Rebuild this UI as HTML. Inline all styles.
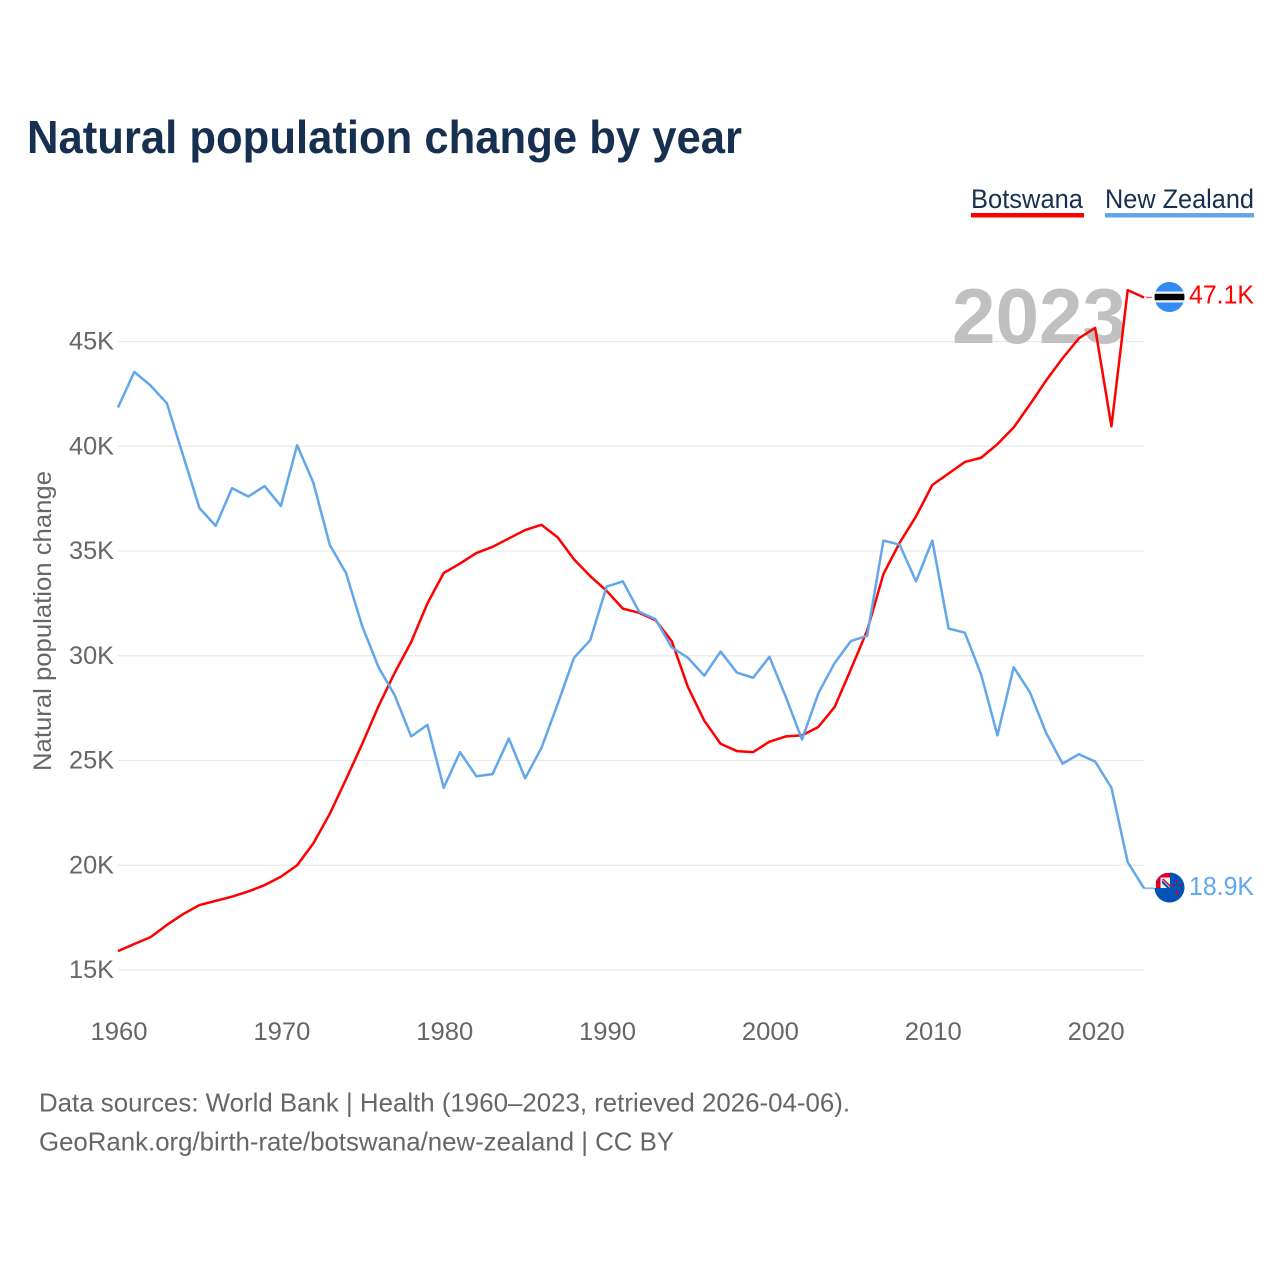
<!DOCTYPE html>
<html lang="en">
<head>
<meta charset="utf-8">
<title>Natural population change by year</title>
<style>
html,body{margin:0;padding:0;background:#fff;}
svg{display:block;}
text{font-family:"Liberation Sans",sans-serif;}
</style>
</head>
<body>
<svg id="chart" xmlns="http://www.w3.org/2000/svg" width="1280" height="1280" viewBox="0 0 1280 1280">
  <rect x="0" y="0" width="1280" height="1280" fill="#fff"/>
  <text x="27" y="153" font-size="46" font-weight="700" fill="#18304f" textLength="715" lengthAdjust="spacingAndGlyphs">Natural population change by year</text>

  <g>
    <text x="971" y="208" font-size="27" fill="#18304f" textLength="112" lengthAdjust="spacingAndGlyphs">Botswana</text>
    <rect x="971" y="213" width="113" height="4.5" fill="#ff0000"/>
  </g>
  <g>
    <text x="1105" y="208" font-size="27" fill="#18304f" textLength="149" lengthAdjust="spacingAndGlyphs">New Zealand</text>
    <rect x="1105" y="213" width="149" height="4.5" fill="#62a6ec"/>
  </g>

  <g id="grid"></g>
  <text x="952" y="343" font-size="78" font-weight="700" fill="#c0c0c0" textLength="174" lengthAdjust="spacingAndGlyphs">2023</text>
  <g id="yticks"></g>
  <g id="xticks"></g>
  <text transform="translate(51,771) rotate(-90)" font-size="25" fill="#666" textLength="300" lengthAdjust="spacingAndGlyphs">Natural population change</text>
  <g id="series"></g>

  <defs>
    <clipPath id="clip-bw"><circle cx="1169.5" cy="297" r="15"/></clipPath>
    <clipPath id="clip-nz"><circle cx="1169.5" cy="887.5" r="15"/></clipPath>
  </defs>
  <g clip-path="url(#clip-bw)">
    <rect x="1154" y="281" width="31" height="32" fill="#338af3"/>
    <rect x="1154" y="291.5" width="31" height="11" fill="#f0f0f0"/>
    <rect x="1154" y="293.8" width="31" height="6.4" fill="#000"/>
  </g>
  <g clip-path="url(#clip-nz)">
    <rect x="1154" y="872" width="31" height="31" fill="#0052b4"/>
    <rect x="1154" y="872" width="16" height="16" fill="#f0f0f0"/>
    <rect x="1154" y="873" width="16" height="4.5" fill="#d80027"/>
    <rect x="1156" y="872" width="4.5" height="16" fill="#d80027"/>
    <path d="M1162 880 L1170 888 L1167 888 L1162 883 Z" fill="#0052b4"/>
    <path d="M1164 879 L1170 885 L1170 887 L1162 879 Z" fill="#d80027"/>
    <circle cx="1173" cy="885" r="1.3" fill="#d80027"/>
    <circle cx="1177" cy="881" r="1.1" fill="#d80027"/>
    <circle cx="1180" cy="885" r="1.1" fill="#d80027"/>
    <circle cx="1177" cy="893" r="1.5" fill="#d80027"/>
  </g>

  <text x="1189" y="303.5" font-size="26" fill="#ff0000" textLength="65" lengthAdjust="spacingAndGlyphs">47.1K</text>
  <text x="1189" y="895" font-size="26" fill="#62a6ec" textLength="65" lengthAdjust="spacingAndGlyphs">18.9K</text>

  <text x="39" y="1111.5" font-size="26" fill="#666" textLength="811" lengthAdjust="spacingAndGlyphs">Data sources: World Bank | Health (1960–2023, retrieved 2026-04-06).</text>
  <text x="39" y="1150.5" font-size="26" fill="#666" textLength="635" lengthAdjust="spacingAndGlyphs">GeoRank.org/birth-rate/botswana/new-zealand | CC BY</text>
</svg>
<script>
const firstYear = 1960;
const botswanaValues = [15.9,16.24,16.57,17.15,17.67,18.1,18.3,18.5,18.75,19.05,19.45,20.0,21.05,22.45,24.1,25.8,27.6,29.2,30.65,32.5,33.95,34.4,34.9,35.2,35.6,36.0,36.25,35.65,34.6,33.8,33.1,32.25,32.05,31.7,30.7,28.5,26.9,25.8,25.45,25.4,25.9,26.15,26.2,26.6,27.55,29.35,31.2,33.9,35.4,36.65,38.15,38.7,39.25,39.45,40.1,40.9,42.0,43.15,44.2,45.15,45.65,40.95,47.45,47.1];
const newZealandValues = [41.85,43.55,42.9,42.05,39.55,37.05,36.2,38.0,37.6,38.1,37.15,40.05,38.25,35.3,33.95,31.4,29.45,28.1,26.15,26.7,23.7,25.4,24.25,24.35,26.05,24.15,25.6,27.7,29.9,30.75,33.3,33.55,32.1,31.75,30.4,29.9,29.05,30.2,29.2,28.95,29.95,28.05,26.0,28.2,29.65,30.7,30.95,35.5,35.3,33.55,35.5,31.3,31.1,29.1,26.2,29.45,28.25,26.3,24.85,25.3,24.95,23.7,20.15,18.9];
const yTickValues = [15,20,25,30,35,40,45];
const xTickYears = [1960,1970,1980,1990,2000,2010,2020];

const NS = 'http://www.w3.org/2000/svg';
function xScale(year){ return 118 + (year - 1960) * (1026 / 63); }
function yScale(v){ return 970 - (v - 15) * (628.5 / 30); }

const grid = document.getElementById('grid');
const yticks = document.getElementById('yticks');
const xticks = document.getElementById('xticks');
const series = document.getElementById('series');

yTickValues.forEach(function(v){
  const line = document.createElementNS(NS, 'line');
  
  
  line.setAttribute('x1', 118);
  line.setAttribute('x2', 1144);
  line.setAttribute('y1', yScale(v));
  line.setAttribute('y2', yScale(v));
  line.setAttribute('stroke', '#e9e9e9');
  line.setAttribute('stroke-width', 1.2);
  grid.appendChild(line);

  const t = document.createElementNS(NS, 'text');
  
  
  t.setAttribute('x', 114);
  t.setAttribute('y', yScale(v) + 8);
  t.setAttribute('text-anchor', 'end');
  t.setAttribute('font-size', 25);
  t.setAttribute('fill', '#666');
  t.setAttribute('textLength', 45);
  t.setAttribute('lengthAdjust', 'spacingAndGlyphs');
  t.textContent = v + 'K';
  yticks.appendChild(t);
});

xTickYears.forEach(function(y){
  const t = document.createElementNS(NS, 'text');
  
  
  t.setAttribute('x', xScale(y) + 1);
  t.setAttribute('y', 1040);
  t.setAttribute('text-anchor', 'middle');
  t.setAttribute('font-size', 25);
  t.setAttribute('fill', '#666');
  t.setAttribute('textLength', 57);
  t.setAttribute('lengthAdjust', 'spacingAndGlyphs');
  t.textContent = y;
  xticks.appendChild(t);
});

function toPoints(values){
  return values.map(function(v, i){
    return xScale(firstYear + i).toFixed(2) + ',' + yScale(v).toFixed(2);
  }).join(' ');
}

const redLine = document.createElementNS(NS, 'polyline');


redLine.setAttribute('points', toPoints(botswanaValues));
redLine.setAttribute('fill', 'none');
redLine.setAttribute('stroke', '#ff0000');
redLine.setAttribute('stroke-width', 2.5);
redLine.setAttribute('stroke-linejoin', 'round');
series.appendChild(redLine);

const blueLine = document.createElementNS(NS, 'polyline');


blueLine.setAttribute('points', toPoints(newZealandValues));
blueLine.setAttribute('fill', 'none');
blueLine.setAttribute('stroke', '#62a6ec');
blueLine.setAttribute('stroke-width', 2.5);
blueLine.setAttribute('stroke-linejoin', 'round');
series.appendChild(blueLine);

const redConnector = document.createElementNS(NS, 'line');


redConnector.setAttribute('x1', xScale(2023) + 2);
redConnector.setAttribute('x2', 1152);
redConnector.setAttribute('y1', yScale(botswanaValues[botswanaValues.length - 1]));
redConnector.setAttribute('y2', yScale(botswanaValues[botswanaValues.length - 1]));
redConnector.setAttribute('stroke', '#ff0000');
redConnector.setAttribute('stroke-opacity', 0.6);
redConnector.setAttribute('stroke-width', 1.5);
series.appendChild(redConnector);

const blueConnector = document.createElementNS(NS, 'line');


blueConnector.setAttribute('x1', xScale(2023));
blueConnector.setAttribute('x2', 1154);
blueConnector.setAttribute('y1', yScale(newZealandValues[newZealandValues.length - 1]));
blueConnector.setAttribute('y2', yScale(newZealandValues[newZealandValues.length - 1]));
blueConnector.setAttribute('stroke', '#62a6ec');
blueConnector.setAttribute('stroke-opacity', 0.8);
blueConnector.setAttribute('stroke-width', 1.8);
series.appendChild(blueConnector);
</script>
</body>
</html>
